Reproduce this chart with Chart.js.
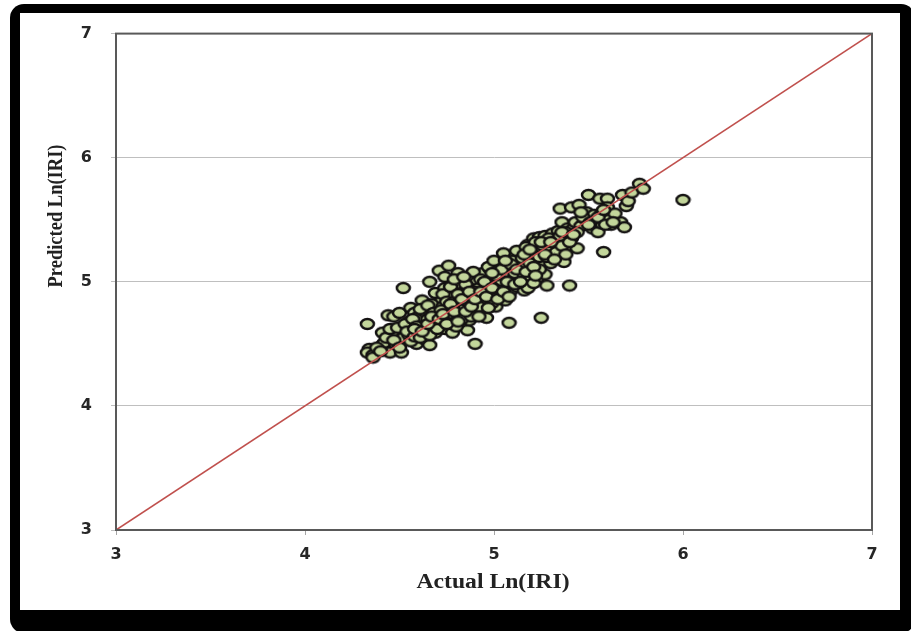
<!DOCTYPE html>
<html>
<head>
<meta charset="utf-8">
<script src="https://cdn.jsdelivr.net/npm/chart.js@4.4.1/dist/chart.umd.min.js"></script>
<style>
  html, body { margin: 0; padding: 0; background: #fff; overflow: hidden; }
  body { width: 911px; height: 631px; position: relative; }
  #frame { position: absolute; left: 10px; top: 4px; width: 905px; height: 629px; background: #000; border-radius: 14px; }
  #inner { position: absolute; left: 20px; top: 13px; width: 880px; height: 597px; background: #fff; }
  #chart { position: absolute; left: 20px; top: 5px; display: block; }
</style>
</head>
<body>
<div id="frame"></div>
<div id="inner"></div>
<canvas id="chart" width="880" height="605"></canvas>
<script>
// Actual vs predicted Ln(IRI)
var actualLnIRI = [
    4.33,4.34,4.33,4.36,4.36,4.41,4.41,4.42,4.45,4.46,
    4.48,4.44,4.47,4.50,4.52,4.51,4.52,4.55,4.57,4.56,
    4.58,4.59,4.60,4.62,4.62,4.63,4.64,4.66,4.66,4.67,
    4.69,4.69,4.69,4.70,4.71,4.72,4.72,4.74,4.74,4.74,
    4.76,4.76,4.76,4.78,4.78,4.79,4.80,4.81,4.81,4.82,
    4.83,4.84,4.85,4.86,4.87,4.88,4.88,4.89,4.90,4.90,
    4.91,4.92,4.93,4.94,4.95,4.96,4.97,4.98,5.00,5.00,
    5.01,5.02,5.03,5.04,5.05,5.06,5.07,5.08,5.08,5.09,
    5.10,5.11,5.12,5.13,5.14,5.15,5.16,5.17,5.18,5.18,
    5.18,5.20,5.21,5.22,5.23,5.23,5.24,5.25,5.25,5.26,
    5.27,5.27,5.28,5.29,5.30,5.31,5.31,5.32,5.34,5.34,
    5.35,5.36,5.37,5.39,5.39,5.40,5.41,5.41,5.42,5.43,
    5.44,5.45,5.46,5.48,5.49,5.50,5.52,5.53,5.53,5.55,
    5.56,5.57,5.57,5.58,5.60,5.60,5.60,5.61,5.62,5.67,
    5.68,5.69,5.70,5.71,5.73,5.77,5.79,6.00,
    4.55,4.60,4.63,4.65,4.67,4.68,4.70,4.71,4.73,4.73,
    4.75,4.75,4.77,4.77,4.79,4.80,4.82,4.82,4.84,4.84,
    4.86,4.86,4.87,4.89,4.89,4.91,4.92,4.93,4.94,4.95,
    4.96,4.97,4.98,4.99,5.00,5.01,5.02,5.03,5.04,5.05,
    5.06,5.07,5.09,5.10,5.11,5.12,5.13,5.14,5.15,5.16,
    5.17,5.19,5.19,5.20,5.21,5.22,5.24,5.24,5.26,5.28,
    5.29,5.30,5.33,5.33,5.35,5.36,5.38,5.38,5.40,5.44,
    5.47,5.51,5.55,5.59,5.64,
    4.38,4.40,4.43,4.45,4.47,4.49,4.50,4.53,4.54,4.56,
    4.57,4.58,4.59,4.61,4.61,4.64,4.65,4.66,4.68,4.70,
    4.72,4.74,4.78,4.80,4.81,4.83,4.85,4.88,4.90,4.92,
    4.58,4.62,4.65,4.67,4.71,4.73,4.75,4.77,4.79,4.81,
    4.83,4.85,4.87,4.88,4.90,4.92,4.93,4.95,4.96,4.97,
    4.99,5.01,5.02,5.04,5.05,5.07,5.08,5.09,5.11,5.12,
    5.14,5.16,5.17,5.19,5.21,5.22,5.25,5.27,5.30,5.32,
    5.36,5.42,5.46,5.50,5.58,5.63,4.79,4.84,4.99,5.06
];
var predictedLnIRI = [
    4.66,4.46,4.43,4.41,4.39,4.49,4.59,4.51,4.43,4.59,
    4.50,4.73,4.72,4.75,4.55,4.43,4.95,4.57,4.61,4.79,
    4.75,4.50,4.66,4.69,4.85,4.58,4.53,4.49,5.00,4.63,
    4.59,4.71,4.91,4.78,5.09,4.69,4.84,4.62,4.95,5.04,
    4.77,5.13,4.88,4.59,4.72,4.69,4.82,4.93,5.07,4.98,
    4.80,4.66,4.88,4.61,4.69,4.83,5.04,4.95,4.50,4.77,
    5.00,4.89,4.77,5.07,4.93,4.71,4.85,5.10,5.04,4.91,
    4.80,4.99,5.14,4.88,5.06,4.96,5.07,4.67,5.20,4.93,
    5.02,5.13,4.96,5.08,5.24,5.03,4.93,5.15,5.30,5.20,
    4.95,5.10,5.35,5.24,5.03,5.17,5.36,4.71,5.25,5.15,
    5.37,5.06,4.97,5.28,5.15,5.39,5.28,5.31,5.21,5.41,
    5.59,5.48,5.16,5.29,5.43,4.97,5.35,5.60,5.43,5.48,
    5.27,5.62,5.45,5.51,5.56,5.70,5.43,5.47,5.54,5.40,
    5.67,5.47,5.55,5.24,5.67,5.60,5.52,5.50,5.46,5.48,
    5.70,5.44,5.61,5.65,5.72,5.79,5.75,5.66,
    4.68,4.72,4.76,4.70,4.82,4.66,4.74,4.64,4.80,4.90,
    4.73,4.84,4.96,4.66,4.84,4.76,4.72,4.88,4.92,4.78,
    4.84,4.96,4.74,4.89,5.08,4.82,4.95,5.02,4.86,4.81,
    4.98,5.12,4.90,4.83,5.17,4.96,5.09,4.93,5.01,5.23,
    4.85,5.12,5.00,5.17,5.07,5.25,4.99,5.12,5.19,5.06,
    5.28,5.04,5.15,5.23,4.99,5.32,5.20,5.10,5.29,5.20,
    5.35,5.25,5.33,5.24,5.37,5.29,5.40,5.22,5.32,5.40,
    5.52,5.48,5.52,5.46,5.55,
    4.47,4.44,4.55,4.62,4.53,4.63,4.47,4.66,4.60,4.52,
    4.70,4.56,4.64,4.55,4.78,4.62,4.81,4.57,4.75,4.62,
    4.77,4.68,4.80,4.64,4.90,4.70,4.98,4.72,4.92,4.80,
    4.62,4.60,4.66,4.72,4.70,4.74,4.66,4.82,4.76,4.68,
    4.86,4.76,4.92,4.80,4.86,4.72,4.92,5.00,4.88,4.79,
    4.95,5.05,4.86,5.10,4.92,5.00,4.88,5.14,4.98,5.10,
    5.00,5.22,5.08,5.26,5.12,5.05,5.32,5.22,5.32,5.18,
    5.40,5.38,5.56,5.46,5.58,5.48,5.02,5.04,5.07,5.17
];
var lineOfEquality = [3, 7];
var axisMin = 3;
var axisMax = 7;

var points = [];
actualLnIRI.forEach(function(v, i) {
    points.push({x: v, y: predictedLnIRI[i]});
});
var linePoints = lineOfEquality.map(function(v) { return {x: v, y: v}; });

// ellipse shaped marker, like the Excel one
var marker = document.createElement('canvas');
marker.width = 17;
marker.height = 14;
var mctx = marker.getContext('2d');
mctx.beginPath();
mctx.ellipse(8.5, 7, 6.5, 5.0, 0, 0, Math.PI * 2);
mctx.fillStyle = '#c3d69b';
mctx.fill();
mctx.lineWidth = 2.5;
mctx.strokeStyle = '#141212';
mctx.stroke();

var tickFont = {family: '"DejaVu Sans"', size: 16, weight: 'bold'};

var extras = {
    id: 'extras',
    afterDatasetsDraw: function(chart) {
        var ctx = chart.ctx;
        var a = chart.chartArea;
        ctx.save();
        ctx.strokeStyle = '#595959';
        ctx.lineWidth = 2;
        ctx.strokeRect(a.left, a.top, a.right - a.left, a.bottom - a.top);
        ctx.restore();
    },
    afterDraw: function(chart) {
        var ctx = chart.ctx;
        ctx.save();
        ctx.fillStyle = '#222';
        ctx.textAlign = 'center';
        ctx.textBaseline = 'middle';
        ctx.font = 'bold 20px "Liberation Serif"';
        var w = ctx.measureText('Actual Ln(IRI)').width;
        ctx.translate(473, 578);
        ctx.scale(153 / w, 1);
        ctx.fillText('Actual Ln(IRI)', 0, 0);
        ctx.restore();

        ctx.save();
        ctx.fillStyle = '#222';
        ctx.textAlign = 'center';
        ctx.textBaseline = 'middle';
        ctx.font = 'bold 21px "Liberation Serif"';
        var w2 = ctx.measureText('Predicted Ln(IRI)').width;
        ctx.translate(37, 211);
        ctx.rotate(-Math.PI / 2);
        ctx.scale(143 / w2, 1);
        ctx.fillText('Predicted Ln(IRI)', 0, 0);
        ctx.restore();
    }
};

new Chart(document.getElementById('chart').getContext('2d'), {
    type: 'scatter',
    data: {
        datasets: [{
            type: 'line',
            data: linePoints,
            borderColor: '#c0504d',
            borderWidth: 1.6,
            pointRadius: 0,
            fill: false,
            order: 0
        }, {
            data: points,
            pointStyle: marker,
            order: 1
        }]
    },
    options: {
        responsive: false,
        animation: false,
        devicePixelRatio: 1,
        layout: {autoPadding: false, padding: {top: 20, right: 28, left: 0, bottom: 0}},
        plugins: {legend: {display: false}, tooltip: {enabled: false}},
        scales: {
            x: {
                type: 'linear',
                min: axisMin,
                max: axisMax,
                afterFit: function(s) { s.height = 80; },
                ticks: {stepSize: 1, font: tickFont, color: '#262626', padding: 10},
                grid: {drawOnChartArea: false, tickLength: 5, color: '#a6a6a6'},
                border: {color: '#595959', width: 2}
            },
            y: {
                min: axisMin,
                max: axisMax,
                afterFit: function(s) { s.width = 96; },
                ticks: {stepSize: 1, font: tickFont, color: '#262626', padding: 19},
                grid: {tickLength: 5, color: '#bfbfbf'},
                border: {color: '#595959', width: 2}
            }
        }
    },
    plugins: [extras]
});
</script>
</body>
</html>
